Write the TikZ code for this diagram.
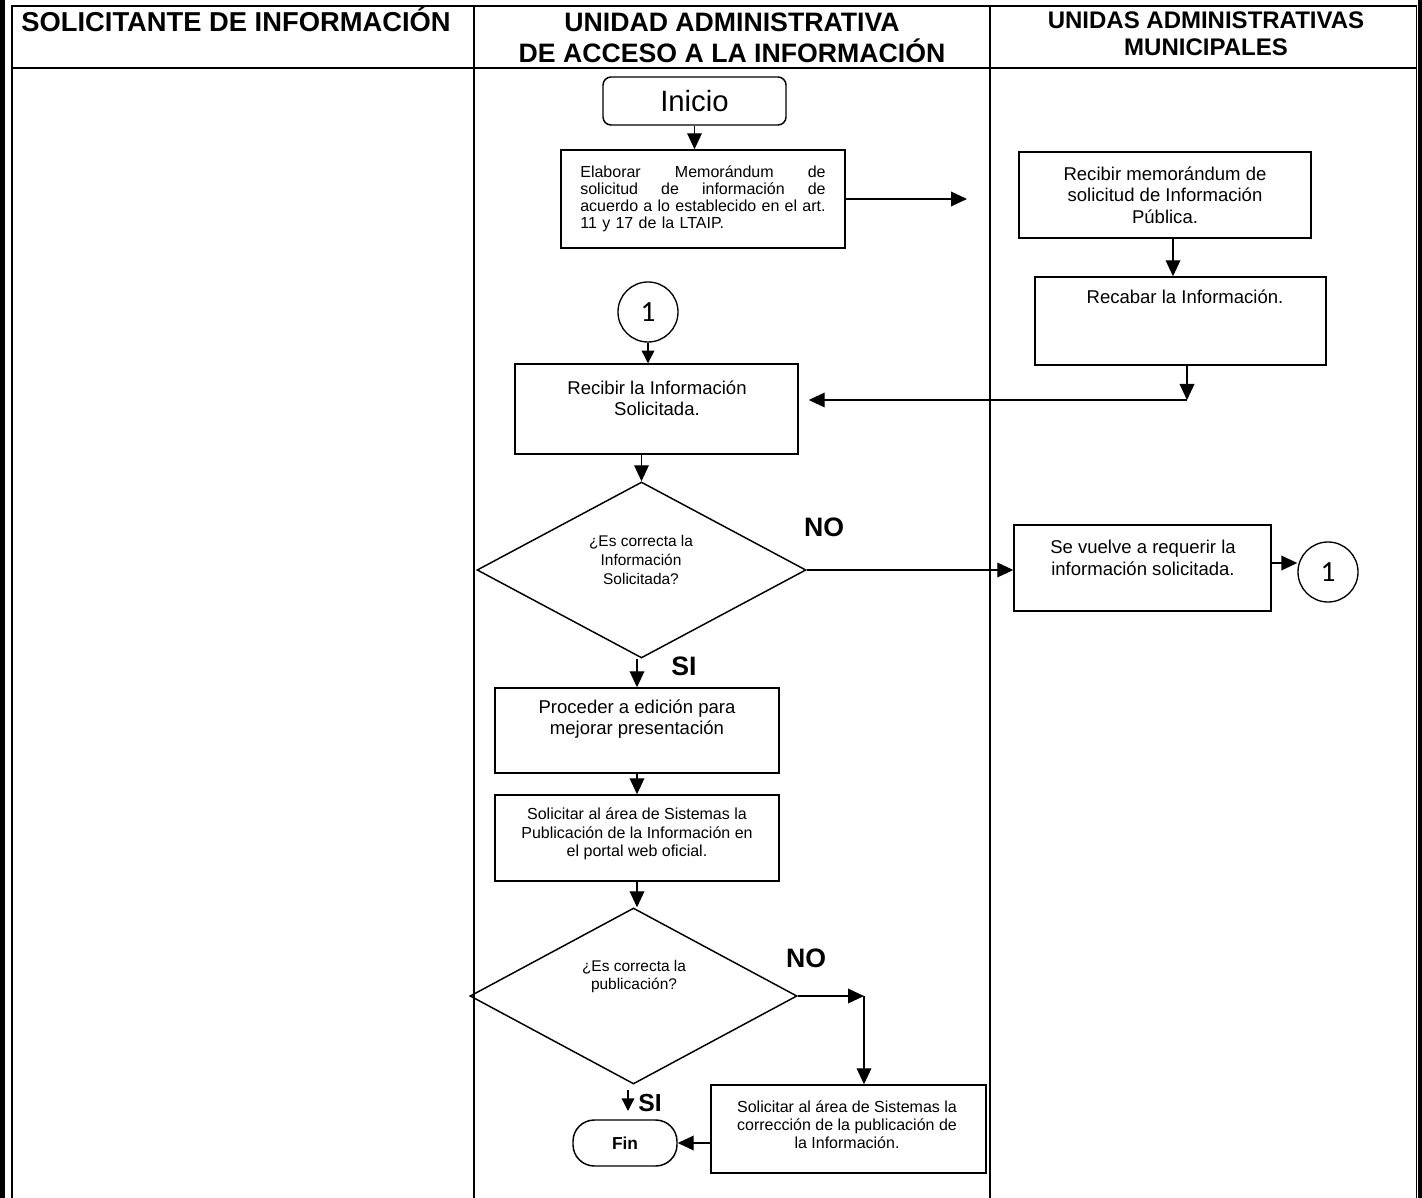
\documentclass[tikz,border=0pt]{standalone}
\usepackage{fontspec}
\setmainfont{Liberation Sans}
\newfontfamily\calfont{Carlito}
\usetikzlibrary{arrows.meta,shapes.geometric,calc}
\tikzset{
  box/.style={draw, line width=1.1pt, inner sep=0pt},
  arr/.style={line width=1pt, -{Triangle[length=12pt,width=11pt]}},
  arrs/.style={line width=1pt, -{Triangle[length=9.5pt,width=9.5pt]}},
  txtA/.style={align=center, font=\fontsize{13.9}{16}\selectfont, inner sep=0pt},
  txtB/.style={align=center, font=\fontsize{12}{14}\selectfont, inner sep=0pt},
  txtD/.style={align=center, font=\fontsize{11.6}{13.9}\selectfont, inner sep=0pt},
  lbl/.style={font=\bfseries\fontsize{20}{24}\selectfont, inner sep=0pt},
  conn/.style={circle, draw, line width=1pt, minimum size=45pt, inner sep=0pt, font=\calfont\fontsize{22}{24}\selectfont},
  gridline/.style={line width=0.9pt},
  hdr/.style={font=\bfseries\fontsize{20}{23.25}\selectfont, align=center, inner sep=0pt},
  dia/.style={diamond, draw, line width=1.1pt, inner sep=0pt},
}
\begin{document}
\begin{tikzpicture}[x=0.75pt, y=-0.75pt]
\useasboundingbox (0,0) rectangle (1422,1198);
% frame
\fill[black] (0,0) rectangle (4.5,1198);
\fill[black] (1418,0) rectangle (1422,1198);
\draw[gridline] (12,1198) -- (12,6) -- (1416.5,6) -- (1416.5,1198);
\draw[gridline] (12,68) -- (1416.5,68);
\draw[gridline] (474,6) -- (474,1198);
\draw[gridline] (990,6) -- (990,1198);
% headers
\node[hdr, font=\bfseries\fontsize{20.5}{24}\selectfont, anchor=base] (h1) at (236,31.7) {SOLICITANTE DE INFORMACIÓN};
\node[hdr] (h2) at (732,37.5) {UNIDAD ADMINISTRATIVA\\DE ACCESO A LA INFORMACIÓN};
\node[hdr, font=\bfseries\fontsize{18}{20.25}\selectfont] (h3) at (1206,33.5) {UNIDAS ADMINISTRATIVAS\\MUNICIPALES};

% nodes
\node[box, rounded corners=6pt, minimum width=137.25pt, minimum height=36pt, font=\fontsize{22}{26}\selectfont] (inicio) at (694.5,101) {Inicio};
\node[box, text width=184pt, inner xsep=14.5pt, minimum height=73.5pt, align=left, font=\fontsize{12}{12.75}\selectfont] (elab) at (703,199)
 {Elaborar\hfill Memorándum\hfill de\\ solicitud\hfill de\hfill información\hfill de\\ acuerdo\hfill a\hfill lo\hfill establecido\hfill en\hfill el\hfill art.\\ 11 y 17 de la LTAIP.};
\coordinate (memoarr) at (967,199);

\node[box, minimum width=219pt, minimum height=64.5pt, txtA] (memo) at (1165,195) {Recibir memorándum de\\solicitud de Información\\Pública.};
\node[box, minimum width=218.25pt, minimum height=66pt] (recab) at (1180.5,321) {};
\node[txtA] (recabt) at (1185,297) {Recabar la Información.};
\coordinate (j1) at (1187,400);

\node[conn] (c1) at (648,312) {1};
\node[box, minimum width=212.25pt, minimum height=67.5pt] (recinfo) at (656.5,409) {};
\node[txtA] (recinfot) at (657,398) {Recibir la Información\\Solicitada.};

\node[dia, minimum width=246.75pt, minimum height=132pt] (d1) at (641.5,570) {};
\node[txtD] (d1t) at (641,560) {¿Es correcta la\\Información\\Solicitada?};
\node[lbl] (no1) at (824,527) {NO};
\node[lbl] (si1) at (684,666) {SI};

\node[box, minimum width=192.75pt, minimum height=64.5pt] (sev) at (1142.5,568) {};
\node[txtA] (sevt) at (1143,558) {Se vuelve a requerir la\\información solicitada.};
\node[conn] (c2) at (1328,572) {1};

\node[box, minimum width=213pt, minimum height=63.75pt] (proc) at (637,730.5) {};
\node[txtA] (proct) at (637,719) {Proceder a edición para\\mejorar presentación};

\node[box, minimum width=213pt, minimum height=64.5pt] (sol1) at (637,838) {};
\node[txtB] (sol1t) at (637,834) {Solicitar al área de Sistemas la\\Publicación de la Información en\\el portal web oficial.};

\node[dia, minimum width=245.25pt, minimum height=132pt] (d2) at (633.5,996) {};
\node[txtD] (d2t) at (634,976.5) {¿Es correcta la\\publicación?};
\node[lbl] (no2) at (806,958) {NO};
\coordinate (corner) at (864,996);

\node[box, minimum width=206.25pt, minimum height=66pt] (sol2) at (848.5,1129) {};
\node[txtB, font=\fontsize{12}{13.5}\selectfont] (sol2t) at (847,1125) {Solicitar al área de Sistemas la\\corrección de la publicación de\\la Información.};

\node[lbl, font=\bfseries\fontsize{18.5}{22}\selectfont] (si2) at (650,1103) {SI};
\node[box, rounded corners=16pt, minimum width=78pt, minimum height=34.5pt, font=\bfseries\fontsize{13}{15}\selectfont] (fin) at (625,1143) {Fin};
\coordinate (sitip) at (628,1111);

% connectors
\draw[arr] (inicio.south) -- (inicio.south |- elab.north);
\draw[arr] (elab.east) -- (elab.east -| memoarr);
\draw[arr] ([xshift=6pt]memo.south) -- ([xshift=6pt]memo.south |- recab.north);
\draw[arr] (recab.south -| j1) -- (j1);
\draw[arr, shorten >=7.5pt] (j1) -- (j1 -| recinfo.east);
\draw[arrs] (c1.south) -- (c1.south |- recinfo.north);
\draw[arr] (recinfo.south -| d1.north) -- (d1.north);
\draw[arr] (d1.east) -- (d1.east -| sev.west);
\draw[arr] ([yshift=3.75pt]sev.east) -- ([yshift=3.75pt]sev.east -| c2.west);
\draw[arr] (proc.north |- d1.south) -- (proc.north);
\draw[arr] (proc.south) -- (sol1.north);
\draw[arr] (sol1.south) -- (sol1.south |- d2.north);
\draw[arr] (d2.east) -- (d2.east -| corner);
\draw[arr] (d2.east -| corner) -- (corner |- sol2.north);
\draw[arrs] ([yshift=-4pt]sitip |- d2.south) -- (sitip);
\draw[arr] (fin.east -| sol2.west) -- (fin.east);
\end{tikzpicture}
\end{document}
